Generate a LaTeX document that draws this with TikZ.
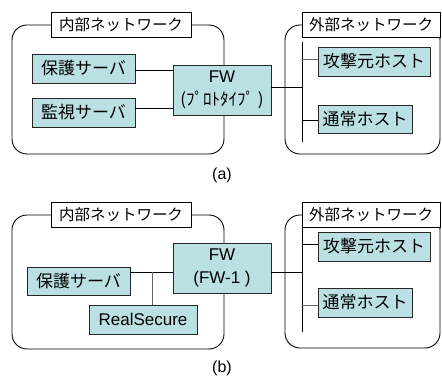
\documentclass[tikz,border=0pt]{standalone}
\usepackage{fontspec}
\setmainfont{Liberation Sans}
\newfontfamily\jp{Noto Sans CJK JP}
\definecolor{boxfill}{RGB}{187,224,227}
\definecolor{linegray}{RGB}{100,100,100}
\begin{document}
\begin{tikzpicture}[x=1pt,y=-1pt,
  region/.style={draw=black,line width=0.9pt,rounded corners=15pt,inner sep=0pt},
  lab/.style={draw=black,fill=white,line width=0.9pt,inner sep=0pt,minimum width=140pt,minimum height=25pt,font=\jp\fontsize{15.5}{17}\selectfont},
  nbox/.style={draw=black!85,fill=boxfill,line width=0.9pt,inner sep=0pt,font=\jp\fontsize{17}{19}\selectfont},
  fwbox/.style={draw=black!85,fill=boxfill,line width=0.9pt,inner sep=0pt,minimum width=98pt,minimum height=50pt,align=center,font=\fontsize{17}{23}\selectfont},
  conn/.style={draw=black,line width=0.9pt},
  gconn/.style={draw=linegray,line width=0.9pt},
  captext/.style={font=\fontsize{16}{18}\selectfont,inner sep=0pt}]
\useasboundingbox (0,0) rectangle (442,379);

% ---------- (a) ----------
\node[region,minimum width=212pt,minimum height=129pt] (inA) at (118,89.5) {};
\node[region,minimum width=155pt,minimum height=129pt] (outA) at (362.5,89.5) {};
\node[lab] (labA1) at (121,24.5) {内部ネットワーク};
\node[lab,minimum width=138pt] (labA2) at (371,24.5) {外部ネットワーク};
\node[nbox,minimum width=103pt,minimum height=29pt] (hogoA) at (83.5,68.5) {保護サーバ};
\node[nbox,minimum width=103pt,minimum height=29pt] (kanA) at (83.5,112.5) {監視サーバ};
\node[fwbox] (fwA) at (222,90) {FW\\{\jp (ﾌﾟﾛﾄﾀｲﾌﾟ )}};
\node[nbox,minimum width=112pt,minimum height=29pt] (kogA) at (374,61.5) {攻撃元ホスト};
\node[nbox,minimum width=94pt,minimum height=28pt] (tsuA) at (365,119) {通常ホスト};
\coordinate (busAt) at (302,42);
\coordinate (busAb) at (302,142);
\draw[conn] ([yshift=-1.5pt]hogoA.east) -- ([yshift=-1.5pt]hogoA.east -| fwA.west);
\draw[conn] ([yshift=4pt]kanA.east) -- ([yshift=4pt]kanA.east -| fwA.west);
\draw[conn] (busAt) -- (busAb);
\draw[conn] ([yshift=3pt]fwA.east) -- ([yshift=3pt]fwA.east -| busAt);
\draw[gconn] ([yshift=2.5pt]kogA.west -| busAt) -- ([yshift=2.5pt]kogA.west);
\draw[conn] ([yshift=-1pt]tsuA.west -| busAt) -- ([yshift=-1pt]tsuA.west);
\node[captext] (capA) at (222,175) {(a)};

% ---------- (b) ----------
\node[region,minimum width=212pt,minimum height=134pt] (inB) at (118,282) {};
\node[region,minimum width=155pt,minimum height=133pt] (outB) at (362.5,281.5) {};
\node[lab] (labB1) at (121,214.5) {内部ネットワーク};
\node[lab,minimum width=138pt] (labB2) at (371,214.5) {外部ネットワーク};
\node[nbox,minimum width=103pt,minimum height=28pt] (hogoB) at (78.5,281) {保護サーバ};
\node[nbox,minimum width=108pt,minimum height=29pt,font=\fontsize{17}{19}\selectfont] (rsB) at (143,319.5) {RealSecure};
\node[fwbox] (fwB) at (222,268) {FW\\(FW-1 )};
\node[nbox,minimum width=112pt,minimum height=29pt] (kogB) at (374,246.5) {攻撃元ホスト};
\node[nbox,minimum width=94pt,minimum height=29pt] (tsuB) at (365,302.5) {通常ホスト};
\coordinate (busBt) at (302,227);
\coordinate (busBb) at (302,332);
\coordinate (jB) at (152,272);
\draw[conn] (jB -| hogoB.east) -- (jB -| fwB.west);
\draw[gconn] (jB) -- (jB |- rsB.north);
\draw[conn] (busBt) -- (busBb);
\draw[conn] ([yshift=-4pt]fwB.east) -- ([yshift=-4pt]fwB.east -| busBt);
\draw[conn] ([yshift=2.5pt]kogB.west -| busBt) -- ([yshift=2.5pt]kogB.west);
\draw[gconn] ([yshift=-2.5pt]tsuB.west -| busBt) -- ([yshift=-2.5pt]tsuB.west);
\node[captext] (capB) at (222,368) {(b)};
\end{tikzpicture}
\end{document}
